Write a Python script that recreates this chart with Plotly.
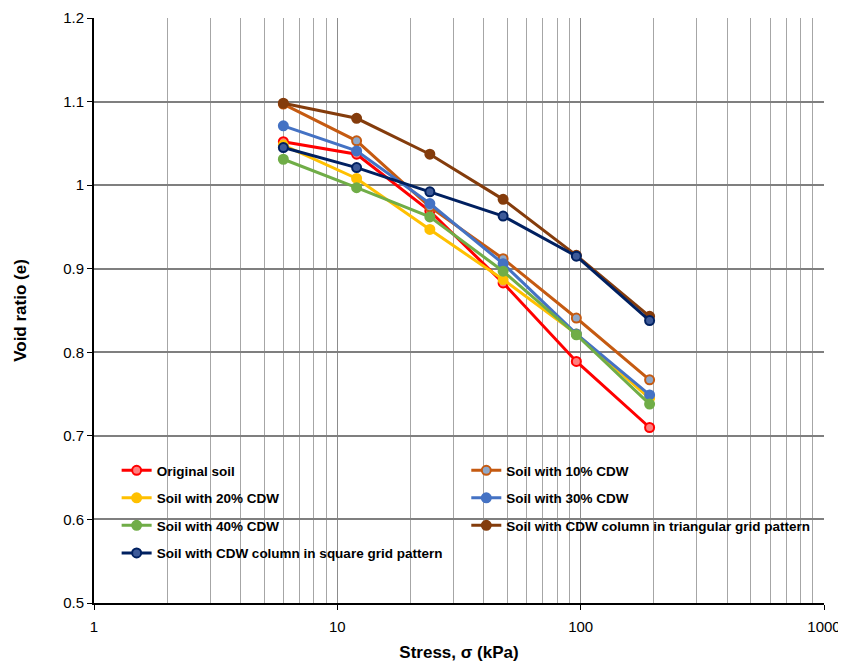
import plotly.graph_objects as go

stress = [6, 12, 24, 48, 96, 192]

names = [
    "Original soil",
    "Soil with 10% CDW",
    "Soil with 20% CDW",
    "Soil with 30% CDW",
    "Soil with 40% CDW",
    "Soil with CDW column in triangular grid pattern",
    "Soil with CDW column in square grid pattern",
]

original = [1.052, 1.037, 0.969, 0.883, 0.789, 0.710]
cdw10 = [1.097, 1.053, 0.974, 0.912, 0.841, 0.767]
cdw20 = [1.048, 1.008, 0.947, 0.887, 0.822, 0.745]
cdw30 = [1.071, 1.041, 0.978, 0.906, 0.822, 0.749]
cdw40 = [1.031, 0.997, 0.962, 0.897, 0.821, 0.738]
triangular = [1.098, 1.080, 1.037, 0.983, 0.916, 0.843]
square = [1.045, 1.021, 0.992, 0.963, 0.915, 0.838]

series = [original, cdw10, cdw20, cdw30, cdw40, triangular, square]
colors = ["#FF0000", "#C55A11", "#FFC000", "#4472C4", "#70AD47", "#843C0C", "#002060"]
fills = ["#FF7F7F", "#8FA8C8", "#FFC000", "#4472C4", "#70AD47", "#843C0C", "#3D5A99"]
legend_col = ["legend", "legend2", "legend", "legend2", "legend", "legend2", "legend"]

xtickvals = [1, 10, 100, 1000]
xticktext = ["1", "10", "100", "1000"]

fig = go.Figure()
for i, (name, ys, c, f, lg) in enumerate(zip(names, series, colors, fills, legend_col)):
    fig.add_trace(go.Scatter(
        x=stress, y=ys, name=name, mode="lines+markers",
        line=dict(color=c, width=3),
        marker=dict(symbol="circle", size=9, color=f, line=dict(color=c, width=2)),
        legend=lg, legendgroup="g%d" % i,
    ))

font = "Liberation Sans, Arial, sans-serif"
legfont = dict(family=font, size=13.5, color="#000000", weight="bold")
fig.update_layout(
    width=838, height=659,
    margin=dict(l=86, r=22, t=10, b=64, autoexpand=False),
    plot_bgcolor="white", paper_bgcolor="white",
    font=dict(family=font, size=15, color="#000000"),
    showlegend=True,
    legend=dict(
        orientation="v", x=0.031, y=0.253, xanchor="left", yanchor="top",
        bgcolor="rgba(0,0,0,0)", font=legfont, tracegroupgap=7,
        traceorder="grouped",
    ),
    legend2=dict(
        orientation="v", x=0.51, y=0.253, xanchor="left", yanchor="top",
        bgcolor="rgba(0,0,0,0)", font=legfont, tracegroupgap=7,
        traceorder="grouped",
    ),
    shapes=[dict(
        type="rect", xref="paper", yref="paper",
        x0=0.0247, x1=0.981, y0=0.065, y1=0.253,
        fillcolor="white", line=dict(width=0), layer="between",
    )],
    xaxis=dict(
        type="log", range=[0, 3], automargin=False,
        tickvals=xtickvals, ticktext=xticktext,
        showgrid=True, gridcolor="#8C8C8C", gridwidth=1,
        minor=dict(tickvals=[a * b for b in [1, 10, 100] for a in range(2, 10)],
                   showgrid=True, gridcolor="#A6A6A6", gridwidth=1),
        showline=True, linecolor="#000000", linewidth=2,
        ticks="outside", ticklen=5, tickcolor="#000000",
        ticklabelstandoff=4,
        tickfont=dict(size=15, color="#000000"),
        title=dict(text="Stress, σ (kPa)", font=dict(size=17, weight="bold"), standoff=12),
        zeroline=False,
    ),
    yaxis=dict(
        range=[0.5, 1.2], dtick=0.1, tick0=0.5, automargin=False,
        showgrid=True, gridcolor="#7F7F7F", gridwidth=1.5,
        showline=True, linecolor="#000000", linewidth=2,
        ticks="outside", ticklen=5, tickcolor="#000000",
        tickfont=dict(size=15, color="#000000"),
        title=dict(text="Void ratio (e)", font=dict(size=17, weight="bold"), standoff=32),
        zeroline=False,
    ),
)
fig.write_html("out.html")
